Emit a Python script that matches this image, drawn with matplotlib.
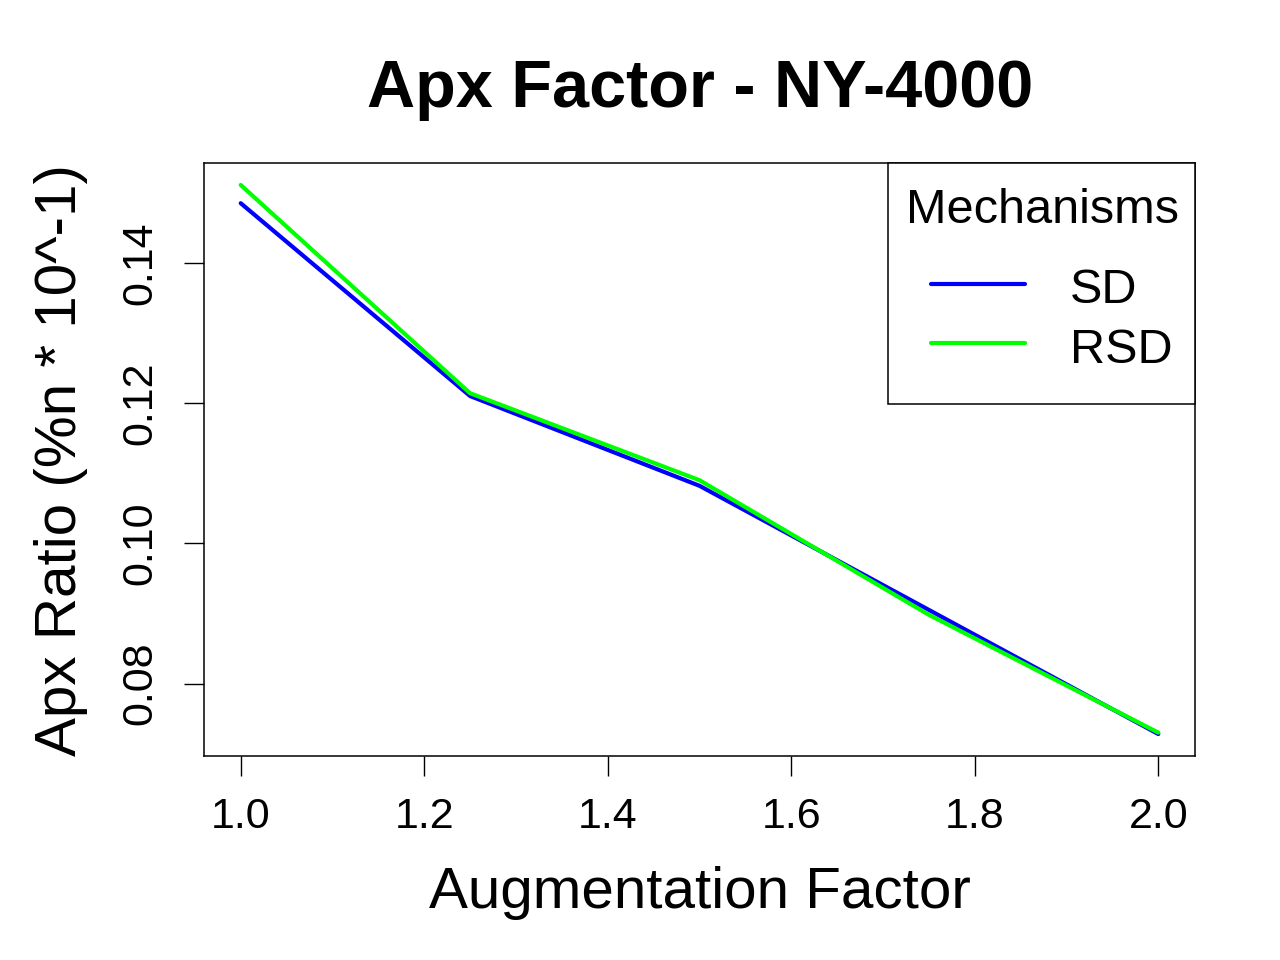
import matplotlib
matplotlib.use("Agg")
import matplotlib.pyplot as plt
from matplotlib.lines import Line2D
from matplotlib.patches import Rectangle

plt.rcParams['font.family'] = ['Liberation Sans', 'DejaVu Sans']

# Data
aug_factor = [1.0, 1.25, 1.5, 1.75, 2.0]
sd_values = [0.1485, 0.1210, 0.1082, 0.0905, 0.0728]
rsd_values = [0.1511, 0.1214, 0.1090, 0.0898, 0.0730]
series_names = ["SD", "RSD"]
series_colors = ["#0000FF", "#00FF00"]
x_ticks = [1.0, 1.2, 1.4, 1.6, 1.8, 2.0]
x_ticklabels = ["1.0", "1.2", "1.4", "1.6", "1.8", "2.0"]
y_ticks = [0.08, 0.10, 0.12, 0.14]
y_ticklabels = ["0.08", "0.10", "0.12", "0.14"]

W, H = 1280, 960
fig = plt.figure(figsize=(12.8, 9.6), dpi=100)
L, R, B, T = 204, 1195, 756, 163
ax = fig.add_axes([L / W, 1 - B / H, (R - L) / W, (B - T) / H])

for vals, col in zip([sd_values, rsd_values], series_colors):
    ax.plot(aug_factor, vals, color=col, linewidth=3, solid_capstyle='round',
            solid_joinstyle='round')

# R-style 4% padding
allv = sd_values + rsd_values
xr = max(aug_factor) - min(aug_factor)
yr = max(allv) - min(allv)
ax.set_xlim(min(aug_factor) - 0.04 * xr, max(aug_factor) + 0.04 * xr)
ax.set_ylim(min(allv) - 0.04 * yr, max(allv) + 0.04 * yr)

ax.set_xticks(x_ticks)
ax.set_xticklabels(x_ticklabels)
ax.set_yticks(y_ticks)
ax.set_yticklabels(y_ticklabels, rotation=90, va='center')
ax.tick_params(axis='both', direction='out', length=14.4, width=1.0,
               labelsize=31, color='black')
ax.tick_params(axis='x', pad=15)
ax.tick_params(axis='y', pad=17)
for s in ax.spines.values():
    s.set_linewidth(1.1)

# Titles / labels
fig.text(700 / W, 1 - 107 / H, "Apx Factor - NY-4000", fontsize=48,
         fontweight='bold', ha='center', va='baseline')
fig.text(700 / W, 1 - 908 / H, "Augmentation Factor", fontsize=42,
         ha='center', va='baseline')
fig.text(76 / W, 1 - 460 / H, "Apx Ratio (%n * 10^-1)", fontsize=42,
         ha='center', va='baseline', rotation=90, rotation_mode='anchor')

# Legend (R style, drawn manually)
def fx(px):
    return (px - L) / (R - L)

def fy(py):
    return (B - py) / (B - T)

ax.add_patch(Rectangle((fx(888), fy(404)), fx(1195) - fx(888), fy(163) - fy(404),
                       transform=ax.transAxes, fill=True, facecolor='white',
                       edgecolor='black', linewidth=1.1, zorder=5, clip_on=False))
ax.text(fx(1042), fy(223), "Mechanisms", transform=ax.transAxes, fontsize=35,
        ha='center', va='baseline', zorder=6)
row_line_y = [284, 343]
row_text_y = [303, 363]
for name, col, ly, ty in zip(series_names, series_colors, row_line_y, row_text_y):
    ax.add_line(Line2D([fx(931), fx(1025)], [fy(ly), fy(ly)], transform=ax.transAxes,
                       color=col, linewidth=3, solid_capstyle='round', zorder=6))
    ax.text(fx(1070), fy(ty), name, transform=ax.transAxes, fontsize=35,
            ha='left', va='baseline', zorder=6)

fig.savefig("out.png", dpi=100)
